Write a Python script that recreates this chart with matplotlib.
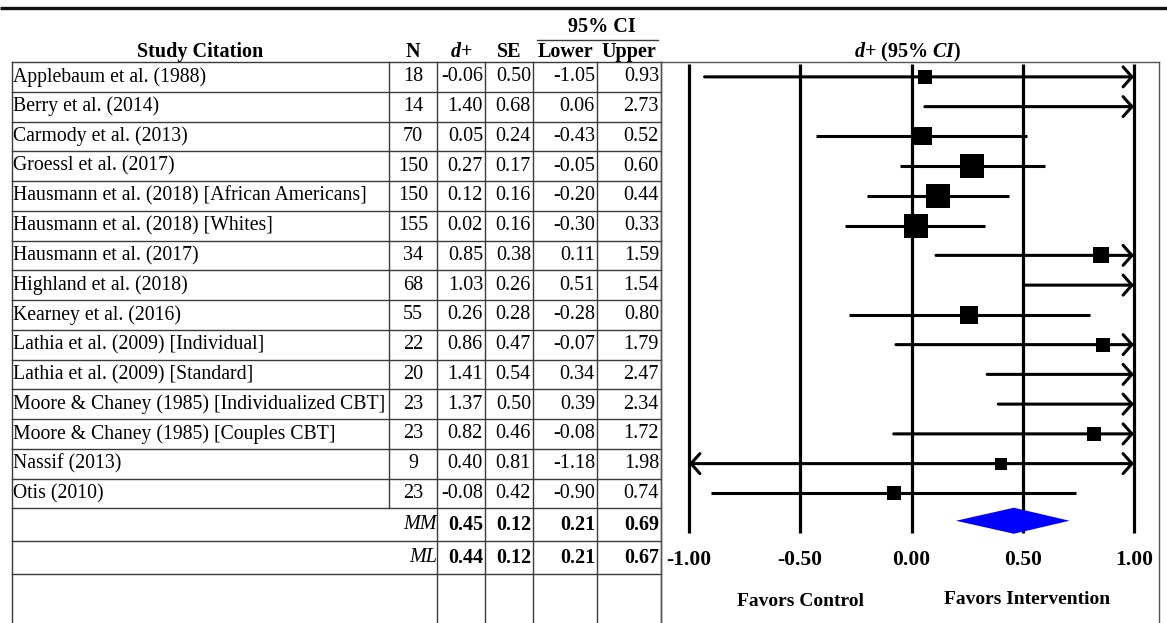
"""
Forest plot with summary table: standardized mean differences (d+) per study,
with MM / ML pooled estimates.
"""
import matplotlib
matplotlib.use("Agg")
import matplotlib.pyplot as plt
import numpy as np

plt.rcParams.update({
    "font.family": "Liberation Serif",
    "mathtext.fontset": "custom",
    "mathtext.it": "Liberation Serif:italic:bold",
    "mathtext.rm": "Liberation Serif:bold",
    "mathtext.bf": "Liberation Serif:bold",
})

# ---- table data -----------------------------------------------------------
studies = [
    "Applebaum et al. (1988)",
    "Berry et al. (2014)",
    "Carmody et al. (2013)",
    "Groessl et al. (2017)",
    "Hausmann et al. (2018) [African Americans]",
    "Hausmann et al. (2018) [Whites]",
    "Hausmann et al. (2017)",
    "Highland et al. (2018)",
    "Kearney et al. (2016)",
    "Lathia et al. (2009) [Individual]",
    "Lathia et al. (2009) [Standard]",
    "Moore & Chaney (1985) [Individualized CBT]",
    "Moore & Chaney (1985) [Couples CBT]",
    "Nassif (2013)",
    "Otis (2010)",
]
n_sizes = [18, 14, 70, 150, 150, 155, 34, 68, 55, 22, 20, 23, 23, 9, 23]
d_plus = [-0.06, 1.40, 0.05, 0.27, 0.12, 0.02, 0.85, 1.03, 0.26, 0.86, 1.41, 1.37, 0.82, 0.40, -0.08]
se = [0.50, 0.68, 0.24, 0.17, 0.16, 0.16, 0.38, 0.26, 0.28, 0.47, 0.54, 0.50, 0.46, 0.81, 0.42]
ci_lower = [-1.05, 0.06, -0.43, -0.05, -0.20, -0.30, 0.11, 0.51, -0.28, -0.07, 0.34, 0.39, -0.08, -1.18, -0.90]
ci_upper = [0.93, 2.73, 0.52, 0.60, 0.44, 0.33, 1.59, 1.54, 0.80, 1.79, 2.47, 2.34, 1.72, 1.98, 0.74]

summary_labels = ["MM", "ML"]
summary_d = [0.45, 0.44]
summary_se = [0.12, 0.12]
summary_lower = [0.21, 0.21]
summary_upper = [0.69, 0.67]

# ---- values as drawn in the forest panel (Applebaum appears sign-flipped) --
plot_d = [0.06, 1.40, 0.05, 0.27, 0.12, 0.02, 0.85, 1.03, 0.26, 0.86, 1.41, 1.37, 0.82, 0.40, -0.08]
plot_lower = [-0.93, 0.06, -0.43, -0.05, -0.20, -0.30, 0.11, 0.51, -0.28, -0.07, 0.34, 0.39, -0.08, -1.18, -0.90]
plot_upper = [1.05, 2.73, 0.52, 0.60, 0.44, 0.33, 1.59, 1.54, 0.80, 1.79, 2.47, 2.34, 1.72, 1.98, 0.74]
diamond = [0.20, 0.46, 0.71]  # lower, estimate, upper of pooled diamond

x_ticks = [-1.00, -0.50, 0.00, 0.50, 1.00]

# ---- layout (pixels) ------------------------------------------------------
W, H = 1167, 623
Y0 = 62.0          # bottom of header
ROW_H = 29.75      # study row height
SUM_H = 33.0       # summary row height
X_LEFT = 12
COLS = [389, 437, 485, 533, 597, 661]   # right edges: study, N, d+, SE, lower, upper
PLOT_RIGHT = 1159
FS = 14.5
FS_NAME = 14.2
LINE_C = "#3a3a3a"

n_rows = len(studies)
row_y = [Y0 + ROW_H * (i + 0.5) for i in range(n_rows)]
study_bottom = Y0 + ROW_H * n_rows
sum_y = [study_bottom + SUM_H * (i + 0.5) for i in range(len(summary_labels))]
sum_bottom = study_bottom + SUM_H * len(summary_labels)

fig = plt.figure(figsize=(W / 100, H / 100), dpi=100)
tab = fig.add_axes([0, 0, 1, 1])
tab.set_xlim(0, W)
tab.set_ylim(H, 0)
tab.axis("off")

# top rule
tab.plot([0, W], [8, 8], color="#111111", lw=2.4, solid_capstyle="butt")

# header
tab.text((X_LEFT + COLS[0]) / 2, 52, "Study Citation", ha="center", va="center",
         fontsize=FS, fontweight="bold")
tab.text((COLS[0] + COLS[1]) / 2, 52, "N", ha="center", va="center", fontsize=FS, fontweight="bold")
tab.text((COLS[1] + COLS[2]) / 2, 52, r"$d$+", ha="center", va="center", fontsize=FS, fontweight="bold")
tab.text((COLS[2] + COLS[3]) / 2, 52, "SE", ha="center", va="center", fontsize=FS, fontweight="bold")
tab.text((COLS[3] + COLS[4]) / 2, 52, "Lower", ha="center", va="center", fontsize=FS, fontweight="bold")
tab.text((COLS[4] + COLS[5]) / 2, 52, "Upper", ha="center", va="center", fontsize=FS, fontweight="bold")
tab.text(602, 27, "95% CI", ha="center", va="center", fontsize=FS, fontweight="bold")
tab.plot([537, 658], [40, 40], color=LINE_C, lw=1.0)

# grid lines of the table
for yy in [Y0] + [Y0 + ROW_H * (i + 1) for i in range(n_rows)] + [study_bottom + SUM_H, sum_bottom]:
    tab.plot([X_LEFT, COLS[-1]], [yy, yy], color=LINE_C, lw=1.0)
tab.plot([X_LEFT, X_LEFT], [Y0, H], color=LINE_C, lw=1.0)
tab.plot([COLS[0], COLS[0]], [Y0, study_bottom], color=LINE_C, lw=1.0)
for cx in COLS[1:]:
    tab.plot([cx, cx], [Y0, H], color=LINE_C, lw=1.0)

# study rows
for i, y in enumerate(row_y):
    tab.text(X_LEFT + 1, y, studies[i], ha="left", va="center", fontsize=FS_NAME)
    tab.text((COLS[0] + COLS[1]) / 2, y, f"{n_sizes[i]}", ha="center", va="center", fontsize=FS)
    for col, val in zip(COLS[2:], [d_plus[i], se[i], ci_lower[i], ci_upper[i]]):
        tab.text(col - 2, y, f"{val:.2f}", ha="right", va="center", fontsize=FS)

# summary rows
for j, y in enumerate(sum_y):
    tab.text(COLS[1], y, summary_labels[j], ha="right", va="center", fontsize=FS, fontstyle="italic")
    vals = [summary_d[j], summary_se[j], summary_lower[j], summary_upper[j]]
    for col, val in zip(COLS[2:], vals):
        tab.text(col - 2, y, f"{val:.2f}", ha="right", va="center", fontsize=FS, fontweight="bold")

# ---- forest panel ---------------------------------------------------------
ax = fig.add_axes([COLS[-1] / W, 0, (PLOT_RIGHT - COLS[-1]) / W, (H - Y0) / H])
px = 222.5  # pixels per unit of d
ax.set_xlim(-1 - (689 - COLS[-1]) / px, 1 + (PLOT_RIGHT - 1134) / px)
ax.set_ylim(H, Y0)
ax.set_xticks([])
ax.set_yticks([])
ax.patch.set_alpha(0)
for side in ["left", "top", "right"]:
    ax.spines[side].set_color("#555555")
    ax.spines[side].set_linewidth(1.0)
ax.spines["bottom"].set_visible(False)

grid_bottom = study_bottom + SUM_H * 0.75
ax.vlines(x_ticks, Y0 + 2, grid_bottom, color="black", lw=2.3, zorder=1)

lo_lim, hi_lim = x_ticks[0], x_ticks[-1]
head = "head_length=0.4,head_width=0.45"
arrow_kw = dict(arrowstyle="->," + head, lw=2.2, color="black",
                shrinkA=0, shrinkB=0, mutation_scale=16)

for i, y in enumerate(row_y):
    lo, hi, est = plot_lower[i], plot_upper[i], plot_d[i]
    a, b = max(lo, lo_lim), min(hi, hi_lim)
    if lo < lo_lim and hi > hi_lim:
        ax.annotate("", xy=(b, y), xytext=(a, y),
                    arrowprops=dict(arrow_kw, arrowstyle="<->," + head), zorder=3)
    elif hi > hi_lim:
        ax.annotate("", xy=(b, y), xytext=(a, y), arrowprops=arrow_kw, zorder=3)
    elif lo < lo_lim:
        ax.annotate("", xy=(a, y), xytext=(b, y), arrowprops=arrow_kw, zorder=3)
    else:
        ax.plot([a, b], [y, y], color="black", lw=2.2, solid_capstyle="butt", zorder=3)
    if lo_lim <= est <= hi_lim:
        size_px = 8.5 + 2.5 / se[i]
        ax.plot(est, y, marker="s", ms=size_px * 0.72, color="black", mec="black", mew=0, zorder=4)

# pooled diamond
dy = 13
yc = sum_y[0] - 4
ax.fill([diamond[0], diamond[1], diamond[2], diamond[1]],
        [yc, yc - dy, yc, yc + dy], color="#0000ff", lw=0, zorder=5)

# tick labels & direction labels
for t in x_ticks:
    ax.text(t, sum_y[1] + 2, f"{t:.2f}", ha="center", va="center", fontsize=15.5,
            fontweight="bold", clip_on=False)
ax.text(-0.5, 601, "Favors Control", ha="center", va="center", fontsize=14, fontweight="bold")
ax.text(0.52, 600, "Favors Intervention", ha="center", va="center", fontsize=14, fontweight="bold")

tab.text(908, 52, r"$d$+ (95% $CI$)", ha="center", va="center", fontsize=FS, fontweight="bold")

fig.savefig("out.png", dpi=100)
